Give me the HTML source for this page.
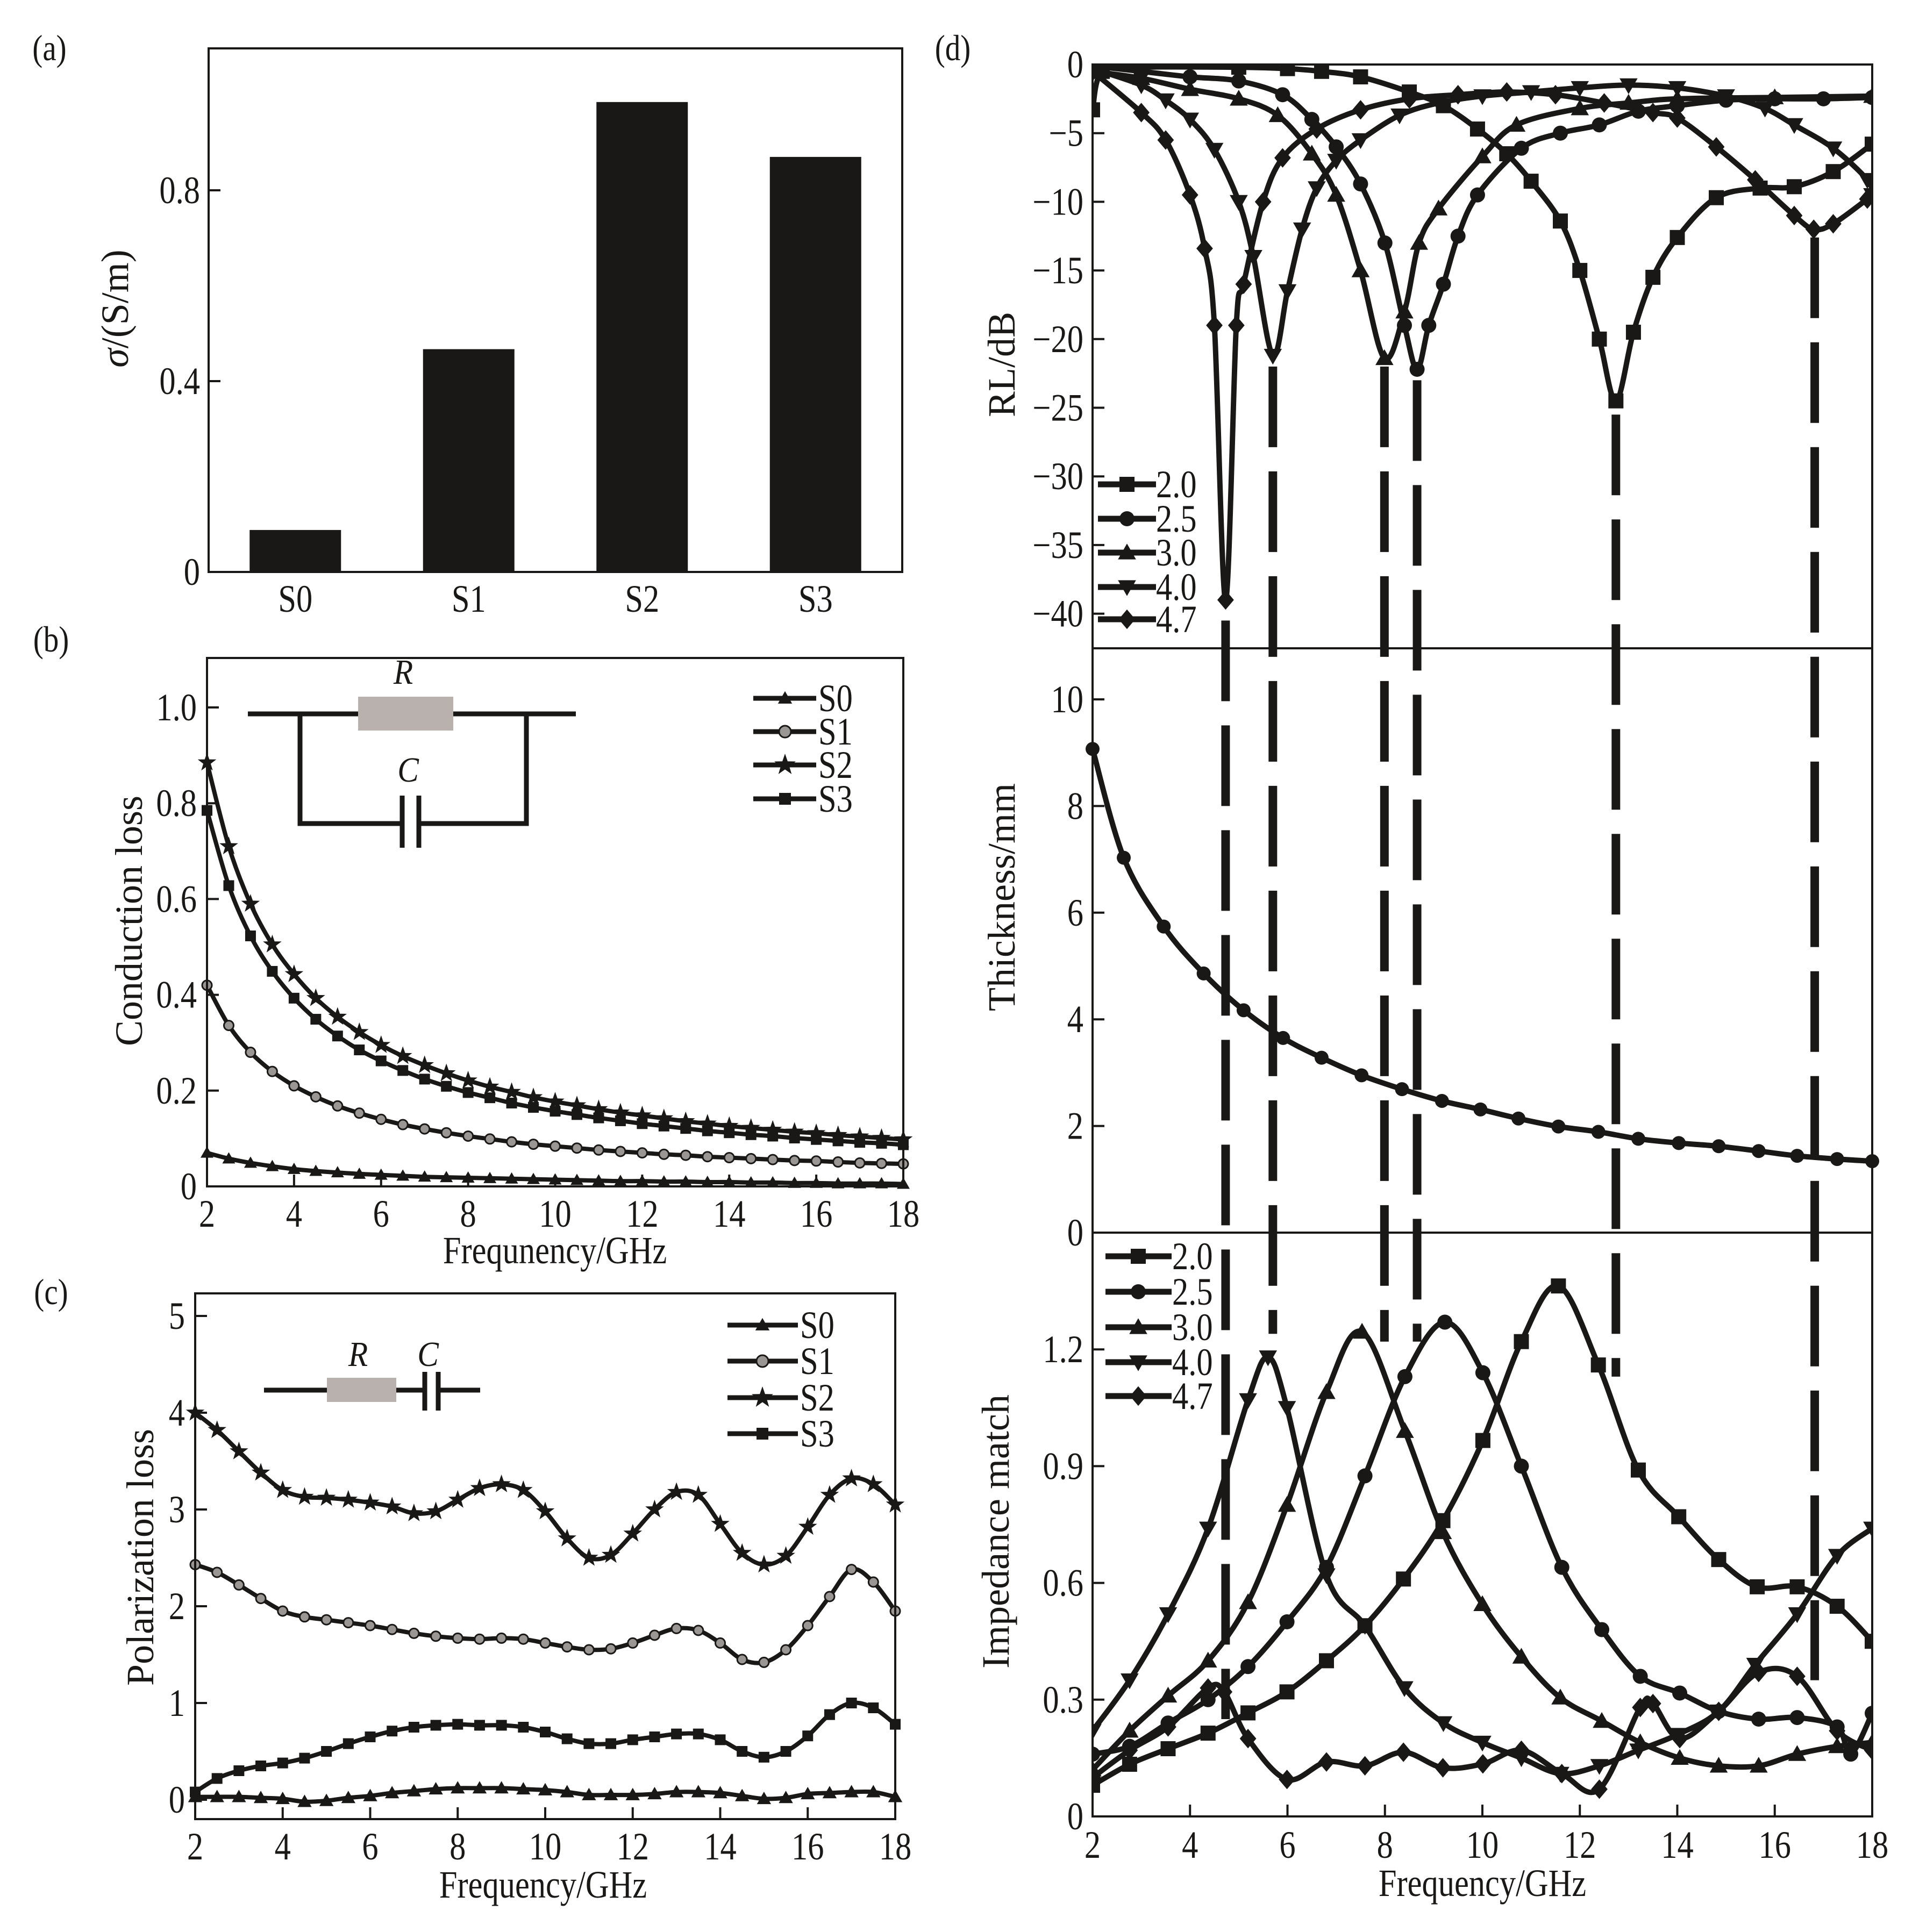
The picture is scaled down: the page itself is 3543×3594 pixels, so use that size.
<!DOCTYPE html>
<html><head><meta charset="utf-8"><style>
html,body{margin:0;padding:0;background:#fff}
svg{display:block}
text{font-family:"Liberation Serif",serif;fill:#1a1816}
</style></head><body>
<svg id="fig" xmlns="http://www.w3.org/2000/svg" width="3543" height="3594" viewBox="0 0 3543 3594">
<g id="g"></g>
</svg>
<script>
// ---------- Panel (a) data ----------
const aCats = ["S0","S1","S2","S3"];
const aVals = [0.088, 0.467, 0.985, 0.87];
const aTicks = [0, 0.4, 0.8];
const aTickLabels = ["0","0.4","0.8"];

// ---------- Panel (b) data ----------
const bFreq = [2,2.5,3,3.5,4,4.5,5,5.5,6,6.5,7,7.5,8,8.5,9,9.5,10,10.5,11,11.5,12,12.5,13,13.5,14,14.5,15,15.5,16,16.5,17,17.5,18];
const bS0 = [.07,.058,.049,.042,.036,.032,.029,.026,.024,.022,.02,.019,.018,.017,.016,.015,.014,.013,.012,.011,.011,.010,.010,.009,.009,.008,.008,.007,.007,.006,.006,.006,.005];
const bS1 = [.42,.336,.28,.24,.21,.187,.168,.153,.14,.129,.12,.112,.105,.099,.093,.088,.084,.080,.076,.073,.07,.067,.065,.062,.06,.058,.056,.054,.053,.051,.049,.048,.047];
const bS2 = [.885,.71,.59,.505,.443,.393,.354,.322,.295,.272,.253,.236,.221,.208,.197,.186,.177,.169,.161,.154,.148,.142,.136,.131,.126,.122,.118,.114,.111,.107,.104,.101,.098];
const bS3 = [.785,.628,.523,.449,.393,.349,.314,.285,.262,.242,.224,.209,.196,.185,.174,.165,.157,.150,.143,.137,.131,.126,.121,.116,.112,.108,.105,.101,.098,.095,.092,.090,.087];
const bYTicks = [0,0.2,0.4,0.6,0.8,1.0];
const bYLabels = ["0","0.2","0.4","0.6","0.8","1.0"];
const xTicks = [2,4,6,8,10,12,14,16,18];
const xLabels = ["2","4","6","8","10","12","14","16","18"];

// ---------- Panel (c) data ----------
const cFreq = bFreq;
const cS0 = [0.03,0.03,0.03,0.02,0.01,-0.02,-0.01,0.02,0.04,0.07,0.09,0.11,0.12,0.12,0.12,0.11,0.1,0.08,0.05,0.05,0.05,0.06,0.08,0.08,0.07,0.04,0.01,0.02,0.06,0.07,0.08,0.08,0.03];
const cS1 = [2.43,2.35,2.22,2.08,1.95,1.89,1.86,1.83,1.8,1.76,1.72,1.69,1.67,1.66,1.67,1.66,1.62,1.58,1.55,1.56,1.62,1.7,1.77,1.75,1.62,1.45,1.42,1.55,1.8,2.1,2.38,2.25,1.95];
const cS2 = [4.0,3.82,3.6,3.38,3.2,3.13,3.12,3.1,3.07,3.03,2.96,2.98,3.1,3.22,3.26,3.2,2.98,2.7,2.5,2.53,2.75,3.0,3.18,3.15,2.85,2.55,2.43,2.52,2.82,3.15,3.32,3.26,3.05];
const cS3 = [0.08,0.22,0.3,0.35,0.38,0.43,0.5,0.58,0.65,0.71,0.75,0.77,0.78,0.77,0.77,0.75,0.7,0.63,0.58,0.58,0.62,0.65,0.68,0.68,0.62,0.5,0.44,0.5,0.66,0.88,1.0,0.95,0.78];
const cYTicks = [0,1,2,3,4,5];
const cYLabels = ["0","1","2","3","4","5"];

// ---------- Panel (d) RL data ----------
const rl20f = [2,2.2,3,5,6,6.7,7.5,8.5,9.2,9.9,10.5,11,11.6,12,12.4,12.74,13.1,13.5,14,14.8,15.7,16.4,17.2,18];
const rl20v = [-3.3,-0.5,-0.2,-0.2,-0.3,-0.5,-0.9,-2,-3,-4.7,-6.5,-8.5,-11.4,-15,-20,-24.5,-19.5,-15.5,-12.6,-9.7,-9,-8.9,-7.8,-5.8];
const rl25f = [2,3,4,5,5.9,6.5,7,7.5,8,8.4,8.66,8.9,9.2,9.5,9.9,10.8,11.6,12.4,13.2,14,15,16,17,18];
const rl25v = [-0.1,-0.5,-0.9,-1.2,-2.2,-4,-6,-8.7,-13,-19,-22.2,-19,-16,-12.5,-9.5,-6.1,-5,-4.4,-3.4,-3,-2.6,-2.5,-2.5,-2.4];
const rl30f = [2,3,4,5,5.8,6.5,7,7.5,7.99,8.4,8.7,9.1,10,10.7,12,13,14,16,18];
const rl30v = [-0.5,-1,-1.8,-2.5,-3.7,-6.5,-9.5,-15,-21.4,-18,-13,-10.5,-6.7,-4.4,-3.2,-2.8,-2.5,-2.4,-2.3];
const rl40f = [2,3,3.5,4,4.5,5,5.3,5.7,6,6.3,6.6,7,7.5,8.3,9.1,10,11,12,13,14,15,15.8,16.4,17.2,17.9,18];
const rl40v = [-0.3,-1.5,-2.6,-4,-6.2,-10,-14,-21.2,-16.5,-12,-9,-7,-5.5,-3.7,-2.8,-2.3,-2,-1.7,-1.5,-1.7,-2.3,-3.2,-4.4,-6.1,-8.4,-9.5];
const rl47f = [2,3,3.5,4,4.3,4.5,4.73,4.95,5.1,5.5,5.9,6.6,7.5,8.5,9.5,10.5,11.5,12.5,13.5,14,14.8,15.6,16.4,16.8,17.2,17.9,18];
const rl47v = [-0.5,-3.5,-5.5,-9.5,-13.4,-19,-39,-19,-16,-10,-6.8,-4.7,-3.3,-2.5,-2.2,-2,-2.2,-2.8,-3.5,-3.9,-6,-8.4,-11,-12,-11.6,-9.8,-9.5];
const rlTicks = [0,-5,-10,-15,-20,-25,-30,-35,-40];
const rlLabels = ["0","\u22125","\u221210","\u221215","\u221220","\u221225","\u221230","\u221235","\u221240"];

// ---------- Panel (d) thickness data ----------
const thF = [2,2.64,3.46,4.28,5.1,5.91,6.7,7.52,8.35,9.17,9.96,10.74,11.56,12.38,13.2,14.03,14.85,15.67,16.46,17.28,18];
const thV = [9.07,7.03,5.74,4.86,4.17,3.65,3.28,2.95,2.69,2.47,2.31,2.14,1.99,1.89,1.76,1.68,1.62,1.53,1.44,1.38,1.34];
const thTicks = [0,2,4,6,8,10];
const thLabels = ["0","2","4","6","8","10"];

// ---------- Panel (d) impedance data ----------
const im20f = [2,2.76,3.55,4.37,5.19,5.99,6.8,7.59,8.38,9.19,10.01,10.8,11.56,12.38,13.2,14.03,14.85,15.64,16.46,17.28,18];
const im20v = [0.08,0.134,0.174,0.214,0.266,0.32,0.40,0.49,0.61,0.76,0.966,1.22,1.363,1.16,0.89,0.77,0.66,0.59,0.59,0.54,0.45];
const im25f = [2,2.76,3.55,4.37,5.19,5.99,6.8,7.59,8.41,9.23,10.01,10.8,11.63,12.45,13.24,14.05,14.85,15.67,16.46,17.28,17.56,18];
const im25v = [0.16,0.18,0.24,0.30,0.385,0.50,0.64,0.875,1.13,1.27,1.14,0.90,0.64,0.48,0.36,0.317,0.27,0.25,0.254,0.23,0.16,0.265];
const im30f = [2,2.76,3.55,4.37,5.19,5.99,6.8,7.53,8.41,9.19,10.0,10.8,11.6,12.45,13.24,14.05,14.85,15.67,16.46,17.28,18];
const im30v = [0.12,0.22,0.31,0.40,0.55,0.80,1.09,1.245,0.99,0.73,0.545,0.41,0.305,0.245,0.19,0.15,0.13,0.13,0.16,0.18,0.19];
const im40f = [2,2.76,3.55,4.37,5.19,5.6,5.99,6.8,7.59,8.4,9.2,10.0,10.8,11.6,12.4,13.2,14.0,14.85,15.6,16.46,17.28,18];
const im40v = [0.22,0.35,0.52,0.74,1.07,1.18,1.05,0.62,0.49,0.33,0.24,0.19,0.15,0.11,0.13,0.17,0.21,0.27,0.39,0.52,0.67,0.74];
const im47f = [2,2.76,3.55,4.37,4.7,5.19,5.99,6.8,7.59,8.38,9.19,10.01,10.8,11.63,12.4,13.24,13.5,14.05,14.85,15.67,16.46,17.28,18];
const im47v = [0.1,0.17,0.23,0.33,0.32,0.2,0.095,0.14,0.13,0.165,0.125,0.135,0.17,0.11,0.07,0.28,0.29,0.2,0.27,0.37,0.36,0.22,0.17];
const imTicks = [0,0.3,0.6,0.9,1.2];
const imLabels = ["0","0.3","0.6","0.9","1.2"];

// ---------- Dashed guide lines ----------
const guideF = [4.73,5.7,7.99,8.66,12.74,16.82];
const guideStartDB = [-40.5,-22,-22,-23,-25.5,-12.6];
const guideEndIM = [0.25,1.24,1.22,1.22,1.13,0.35];

const NS="http://www.w3.org/2000/svg";
const G=document.getElementById('g');
const INK="#1a1816";
function mk(tag,attrs,parent){const e=document.createElementNS(NS,tag);for(const k in attrs)e.setAttribute(k,attrs[k]);(parent||G).appendChild(e);return e;}
function txt(s,x,y,fs,anchor,opts){opts=opts||{};
 const t=mk('text',{x:0,y:0,'font-size':fs,'text-anchor':anchor||'middle',transform:`translate(${x},${y}) ${opts.rot?'rotate('+opts.rot+')':''} scale(${opts.sx||0.84},1)`},opts.parent);
 if(opts.italic)t.setAttribute('font-style','italic');
 t.textContent=s;return t;}
function smooth(pts){if(pts.length<2)return'';let d=`M${pts[0][0]},${pts[0][1]}`;
 for(let i=0;i<pts.length-1;i++){const p0=pts[i-1]||pts[i],p1=pts[i],p2=pts[i+1],p3=pts[i+2]||p2;
  const c1x=p1[0]+(p2[0]-p0[0])/6,c1y=p1[1]+(p2[1]-p0[1])/6,c2x=p2[0]-(p3[0]-p1[0])/6,c2y=p2[1]-(p3[1]-p1[1])/6;
  d+=` C${c1x.toFixed(1)},${c1y.toFixed(1)} ${c2x.toFixed(1)},${c2y.toFixed(1)} ${p2[0].toFixed(1)},${p2[1].toFixed(1)}`;}
 return d;}
function marker(type,x,y,s,parent){let e;
 if(type==='square')e=mk('rect',{x:x-s/2,y:y-s/2,width:s,height:s,fill:INK},parent);
 else if(type==='circle')e=mk('circle',{cx:x,cy:y,r:s/2,fill:INK},parent);
 else if(type==='ball')e=mk('circle',{cx:x,cy:y,r:s/2,fill:'#9a9694',stroke:INK,'stroke-width':3},parent);
 else if(type==='tri')e=mk('polygon',{points:`${x},${y-s*0.6} ${x-s*0.6},${y+s*0.45} ${x+s*0.6},${y+s*0.45}`,fill:INK},parent);
 else if(type==='tridown')e=mk('polygon',{points:`${x},${y+s*0.6} ${x-s*0.6},${y-s*0.45} ${x+s*0.6},${y-s*0.45}`,fill:INK},parent);
 else if(type==='diamond')e=mk('polygon',{points:`${x},${y-s*0.65} ${x+s*0.55},${y} ${x},${y+s*0.65} ${x-s*0.55},${y}`,fill:INK},parent);
 else if(type==='star'){let p=[];for(let i=0;i<10;i++){const r=i%2?s*0.28:s*0.7,a=-Math.PI/2+i*Math.PI/5;p.push((x+r*Math.cos(a)).toFixed(1)+','+(y+r*Math.sin(a)).toFixed(1));}
  e=mk('polygon',{points:p.join(' '),fill:INK},parent);}
 return e;}
function series(name,fx,fy,xs,ys,type,lw,ms){
 const g=mk('g',{});
 
 
 const pts=xs.map((f,i)=>[fx(f),fy(ys[i])]);
 const p=mk('path',{d:smooth(pts),fill:'none',stroke:INK,'stroke-width':lw,'stroke-linejoin':'round'},g);
 
 
 pts.forEach(q=>{const m=marker(type,q[0],q[1],ms,g);
  
  });
 return g;}
function frame(name,x0,y0,x1,y1){const r=mk('rect',{x:x0,y:y0,width:x1-x0,height:y1-y0,fill:'none',stroke:INK,'stroke-width':4});
 
 }
function yTicks(vals,labels,fy,x0,lx,fs,name){vals.forEach((v,i)=>{const y=fy(v);
 const l=mk('line',{x1:x0,y1:y,x2:x0+22,y2:y,stroke:INK,'stroke-width':4});
 
 
 const t=txt(labels[i],lx,y+24,fs,'end');
 
 });}
function xTickDraw(fx,yb,ly,fs,name){xTicks.forEach((v,i)=>{const x=fx(v);
 const l=mk('line',{x1:x,y1:yb,x2:x,y2:yb-22,stroke:INK,'stroke-width':4});
 
 
 const t=txt(xLabels[i],x,ly,fs,'middle');
 
 });}
const FS=72;

// ===== Panel (a) =====
(function(){
 const x0=388,x1=1678,yb=1064,top=90; const fy=v=>yb-v*887.5;
 const band=(x1-x0)/aCats.length, bw=170;
 let t=txt('(a)',92,112,68,'middle');
 
 
 aCats.forEach((c,i)=>{const cx=x0+band*(i+0.5);
  const r=mk('rect',{x:cx-bw/2,y:fy(aVals[i]),width:bw,height:yb-fy(aVals[i]),fill:INK});
  
  
  const l=txt(c,cx,1138,FS,'middle');
  
  });
 frame('panel-a-frame',x0,top,x1,yb);
 yTicks(aTicks,aTickLabels,fy,x0,372,FS,'a-y');
 const yl=mk('text',{transform:'translate(238,574) rotate(-90)','text-anchor':'middle','font-size':FS});
 
 
 yl.innerHTML='<tspan font-style="italic">σ</tspan>/(S/m)';
})();

// ===== Panel (b) =====
(function(){
 const x0=385,x1=1680,top=1224,yb=2207; const fx=f=>x0+(f-2)*(x1-x0)/16, fy=v=>yb-v*891;
 let t=txt('(b)',95,1212,68,'middle');
 
 
 const c=mk('g',{fill:'none',stroke:INK,'stroke-width':9});
 
 
 mk('polyline',{points:'461,1328 1071,1328'},c);
 mk('polyline',{points:'558,1328 558,1532 748,1532'},c);
 mk('polyline',{points:'979,1328 979,1532 779,1532'},c);
 mk('line',{x1:748,y1:1480,x2:748,y2:1577},c);
 mk('line',{x1:779,y1:1480,x2:779,y2:1577},c);
 const rb=mk('rect',{x:666,y:1296,width:177,height:63,fill:'#b9b1ad',stroke:'none'});
 
 
 t=txt('R',750,1272,66,'middle',{italic:true,sx:0.9});  
 t=txt('C',759,1454,66,'middle',{italic:true,sx:0.9});  
 series('b-series-s0',fx,fy,bFreq,bS0,'tri',8,20);
 series('b-series-s1',fx,fy,bFreq,bS1,'ball',8,18);
 series('b-series-s3',fx,fy,bFreq,bS3,'square',8,20);
 series('b-series-s2',fx,fy,bFreq,bS2,'star',8,26);
 frame('panel-b-frame',x0,top,x1,yb);
 yTicks(bYTicks,bYLabels,fy,x0,366,FS,'b-y');
 xTickDraw(fx,yb,2282,FS,'b-x');
 t=txt('Frequnency/GHz',1032,2350,FS,'middle');  
 t=txt('Conduction loss',264,1713,FS,'middle',{rot:-90,sx:1});  
 const names=['S0','S1','S2','S3'],types=['tri','ball','star','square'],ys=[1299,1361,1423,1486];
 names.forEach((n,i)=>{const g=mk('g',{});
  
  
  mk('line',{x1:1401,y1:ys[i],x2:1518,y2:ys[i],stroke:INK,'stroke-width':9},g);
  marker(types[i],1460,ys[i],types[i]==='star'?30:22,g);
  txt(n,1522,ys[i]+24,FS,'start',{parent:g});});
})();

// ===== Panel (c) =====
(function(){
 const x0=363,x1=1665,top=2406,yb=3384; const fx=f=>x0+(f-2)*(x1-x0)/16, fy=v=>3348-v*180;
 let t=txt('(c)',95,2426,68,'middle');
 
 
 const c=mk('g',{fill:'none',stroke:INK,'stroke-width':9});
 
 
 mk('line',{x1:491,y1:2586,x2:790,y2:2586},c);
 mk('line',{x1:815,y1:2586,x2:893,y2:2586},c);
 mk('line',{x1:790,y1:2552,x2:790,y2:2624},c);
 mk('line',{x1:815,y1:2552,x2:815,y2:2624},c);
 const rb=mk('rect',{x:608,y:2563,width:129,height:45,fill:'#b9b1ad',stroke:'none'});
 
 
 t=txt('R',666,2541,66,'middle',{italic:true,sx:0.9});  
 t=txt('C',796,2541,66,'middle',{italic:true,sx:0.9});  
 series('c-series-s0',fx,fy,cFreq,cS0,'tri',8,22);
 series('c-series-s1',fx,fy,cFreq,cS1,'ball',8,18);
 series('c-series-s2',fx,fy,cFreq,cS2,'star',8,26);
 series('c-series-s3',fx,fy,cFreq,cS3,'square',8,20);
 frame('panel-c-frame',x0,top,x1,yb);
 yTicks(cYTicks,cYLabels,fy,x0,344,FS,'c-y');
 xTickDraw(fx,yb,3459,FS,'c-x');
 t=txt('Frequency/GHz',1010,3530,FS,'middle');  
 t=txt('Polarization loss',285,2897,FS,'middle',{rot:-90,sx:1});  
 const names=['S0','S1','S2','S3'],types=['tri','ball','star','square'],ys=[2465,2532,2600,2667];
 names.forEach((n,i)=>{const g=mk('g',{});
  
  
  mk('line',{x1:1353,y1:ys[i],x2:1484,y2:ys[i],stroke:INK,'stroke-width':9},g);
  marker(types[i],1418,ys[i],types[i]==='star'?30:22,g);
  txt(n,1488,ys[i]+24,FS,'start',{parent:g});});
})();

// ===== Panel (d) =====
(function(){
 const x0=2032,x1=3482; const fx=f=>x0+(f-2)*(x1-x0)/16;
 const fyR=v=>120-v*25.54, fyT=v=>2293-v*99.2, fyI=v=>3379-v*724;
 let t=txt('(d)',1772,112,68,'middle');
 
 
 const defs=mk('defs',{});
 const cp1=mk('clipPath',{id:'cR'},defs); mk('rect',{x:x0,y:120,width:x1-x0,height:1086},cp1);
 const cp3=mk('clipPath',{id:'cI'},defs); mk('rect',{x:x0,y:2293,width:x1-x0,height:1086},cp3);
 guideF.forEach((f,i)=>{const l=mk('line',{x1:fx(f),y1:fyR(guideStartDB[i]),x2:fx(f),y2:fyI(guideEndIM[i]),stroke:INK,'stroke-width':16,'stroke-dasharray':'150 45'});
  
  });
 const gR=mk('g',{'clip-path':'url(#cR)'});
 
 
 const rl=[[rl20f,rl20v,'square','2.0'],[rl25f,rl25v,'circle','2.5'],[rl30f,rl30v,'tri','3.0'],[rl40f,rl40v,'tridown','4.0'],[rl47f,rl47v,'diamond','4.7']];
 rl.forEach(s=>{gR.appendChild(series('rl-series-'+s[3],fx,fyR,s[0],s[1],s[2],10,28));});
 series('thickness-curve',fx,fyT,thF,thV,'circle',10,26);
 const gI=mk('g',{'clip-path':'url(#cI)'});
 
 
 const im=[[im20f,im20v,'square','2.0'],[im25f,im25v,'circle','2.5'],[im30f,im30v,'tri','3.0'],[im40f,im40v,'tridown','4.0'],[im47f,im47v,'diamond','4.7']];
 im.forEach(s=>{gI.appendChild(series('impedance-series-'+s[3],fx,fyI,s[0],s[1],s[2],10,28));});
 frame('panel-d-rl-frame',x0,120,x1,1206);
 frame('panel-d-thickness-frame',x0,1206,x1,2293);
 frame('panel-d-impedance-frame',x0,2293,x1,3379);
 yTicks(rlTicks,rlLabels,fyR,x0,2015,FS,'rl-y');
 yTicks(thTicks,thLabels,fyT,x0,2015,FS,'thickness-y');
 yTicks(imTicks,imLabels,fyI,x0,2015,FS,'impedance-y');
 xTickDraw(fx,3379,3456,FS,'d-x');
 t=txt('Frequency/GHz',2757,3527,FS,'middle');  
 t=txt('RL/dB',1887,678,FS,'middle',{rot:-90,sx:1});  
 t=txt('Thickness/mm',1887,1669,FS,'middle',{rot:-90,sx:1});  
 t=txt('Impedance match',1876,2849,FS,'middle',{rot:-90,sx:1});  
 const ln=['2.0','2.5','3.0','4.0','4.7'],lt=['square','circle','tri','tridown','diamond'];
 const ly1=[901,965,1028,1092,1152], ly2=[2337,2403,2469,2534,2597];
 ln.forEach((n,i)=>{let g=mk('g',{});
  
  
  mk('line',{x1:2042,y1:ly1[i],x2:2150,y2:ly1[i],stroke:INK,'stroke-width':11},g);
  marker(lt[i],2096,ly1[i],28,g);
  txt(n,2150,ly1[i]+24,FS,'start',{parent:g});
  g=mk('g',{});
  
  
  mk('line',{x1:2056,y1:ly2[i],x2:2179,y2:ly2[i],stroke:INK,'stroke-width':11},g);
  marker(lt[i],2117,ly2[i],28,g);
  txt(n,2180,ly2[i]+24,FS,'start',{parent:g});});
})();
</script>
</body></html>
